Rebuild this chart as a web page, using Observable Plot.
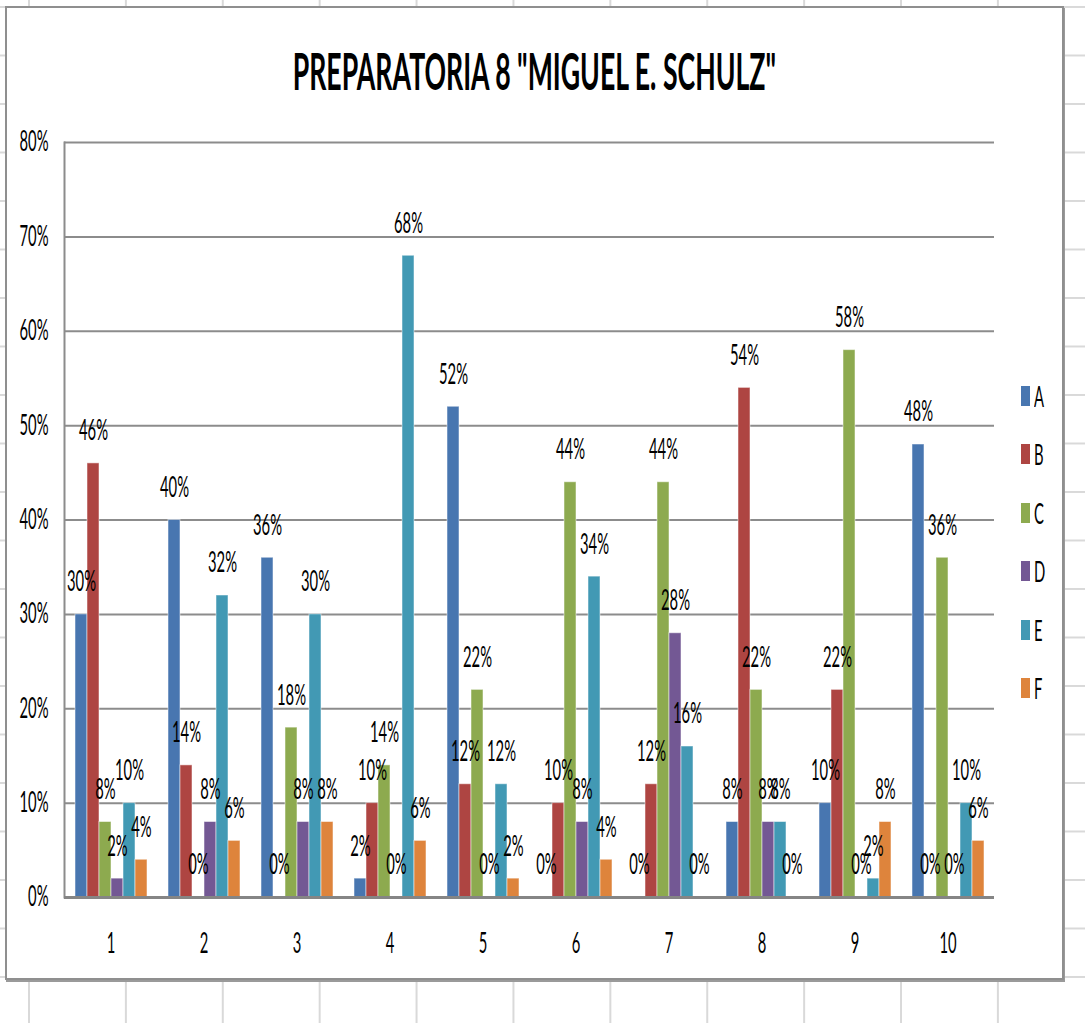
<!DOCTYPE html>
<html><head><meta charset="utf-8">
<script src="https://cdn.jsdelivr.net/npm/d3@7"></script>
<script src="https://cdn.jsdelivr.net/npm/@observablehq/plot@0.6"></script>
<style>
html,body{margin:0;padding:0;}
body{width:1085px;height:1023px;overflow:hidden;position:relative;font-family:Lato,"Open Sans",sans-serif;
  background-color:#fff;
  background-image:linear-gradient(to right,#d9d9d9 2px,transparent 2px),linear-gradient(to bottom,#d9d9d9 2px,transparent 2px);
  background-size:96.9px 100%,100% 48.5px;
  background-position:28px 0,0 6px;}
#box{position:absolute;left:5px;top:6px;width:1055px;height:970px;border:2px solid #8f8f8f;background:#fff;box-shadow:1px 2px 0 #9a9a9a;}
#title{position:absolute;left:0;top:40px;width:1068px;text-align:center;font-weight:bold;font-size:52px;line-height:60px;color:#000;white-space:nowrap;}
#title span{display:inline-block;transform-origin:center;}
#chart{position:absolute;left:0;top:100px;}
#legend{position:absolute;left:1021px;top:0;}
.item{position:absolute;left:0;height:20px;white-space:nowrap;}
.sw{position:absolute;left:0;top:0;width:9px;height:20px;}
.lab{position:absolute;left:13px;top:-8px;font-size:28px;line-height:36px;display:inline-block;transform-origin:left center;color:#000;}
</style></head>
<body>
<div id="box"></div>
<div id="title"><span></span></div>
<div id="chart"></div>
<div id="legend"></div>
<script>
const titleText = 'PREPARATORIA 8 "MIGUEL E. SCHULZ"';
const categories = [1,2,3,4,5,6,7,8,9,10];
const series = ["A","B","C","D","E","F"];
const valuesA = [30,40,36,2,52,0,0,8,10,48];
const valuesB = [46,14,0,10,12,10,12,54,22,0];
const valuesC = [8,0,18,14,22,44,44,22,58,36];
const valuesD = [2,8,8,0,0,8,28,8,0,0];
const valuesE = [10,32,30,68,12,34,16,8,2,10];
const valuesF = [4,6,8,6,2,4,0,0,8,6];
const yTicks = [0,10,20,30,40,50,60,70,80];
const colors = ["#4876B0","#AE4542","#8DAA4F","#735894","#4299B4","#DE843C"];

const seriesValues = [valuesA,valuesB,valuesC,valuesD,valuesE,valuesF];
const rows = [];
categories.forEach((c,i)=>series.forEach((s,j)=>rows.push({cat:c, series:s, value:seriesValues[j][i]})));

const FONT = "Lato, 'Open Sans', sans-serif";
const cv = document.createElement("canvas").getContext("2d");
cv.font = "28px Lato";
const sLabel = 29 / cv.measureText("46%").width;
cv.font = "bold 52px Lato";
const sTitle = 485 / cv.measureText(titleText).width;

// title
const tspan = document.querySelector("#title span");
tspan.textContent = titleText;
tspan.style.transform = `scaleX(${sTitle})`;

const plot = Plot.plot({
  width:1085, height:880,
  marginTop:42, marginBottom:83, marginLeft:63, marginRight:90,
  style:{fontFamily:FONT, fontSize:"28px", color:"#000", background:"transparent", overflow:"visible"},
  fx:{domain:categories, padding:0, label:null},
  x:{domain:series, paddingInner:0, paddingOuter:0.78, axis:null},
  y:{domain:[0,80], axis:null},
  color:{domain:series, range:colors},
  marks:[
    Plot.ruleY(yTicks, {stroke:"#8c8c8c", strokeWidth:2}),
    Plot.frame({anchor:"left", facetAnchor:"left", stroke:"#8c8c8c", strokeWidth:2}),
    Plot.barY(rows, {fx:"cat", x:"series", y:"value", fill:"series", stroke:"white", strokeOpacity:0.5, strokeWidth:1}),
    Plot.ruleY([0], {stroke:"#858585", strokeWidth:3}),
    Plot.text(rows, {fx:"cat", x:"series", y:"value", text:d=>d.value+"%", dy:-32, fill:"#000"}),
    Plot.axisY({ticks:yTicks, tickFormat:d=>d+"%", tickSize:0, tickPadding:16, anchor:"left", label:null}),
    Plot.axisFx({anchor:"bottom", tickSize:0, tickPadding:36, label:null})
  ]
});
document.getElementById("chart").appendChild(plot);

// condense text horizontally to match the narrow look
plot.querySelectorAll("text").forEach(t=>{
  const tr = t.getAttribute("transform");
  if (tr) t.setAttribute("transform", tr + ` scale(${sLabel},1)`);
  else {
    const x = t.getAttribute("x") || 0, y = t.getAttribute("y") || 0;
    t.removeAttribute("x"); t.removeAttribute("y");
    t.setAttribute("transform", `translate(${x},${y}) scale(${sLabel},1)`);
  }
});

// legend
const lg = document.getElementById("legend");
series.forEach((s,i)=>{
  const it = document.createElement("div");
  it.className = "item";
  it.style.top = (386 + i*58.4) + "px";
  const sw = document.createElement("div");
  sw.className = "sw"; sw.style.background = colors[i];
  const lb = document.createElement("span");
  lb.className = "lab"; lb.textContent = s;
  lb.style.transform = `scaleX(${sLabel})`;
  it.appendChild(sw); it.appendChild(lb);
  lg.appendChild(it);
});
</script>
</body></html>
